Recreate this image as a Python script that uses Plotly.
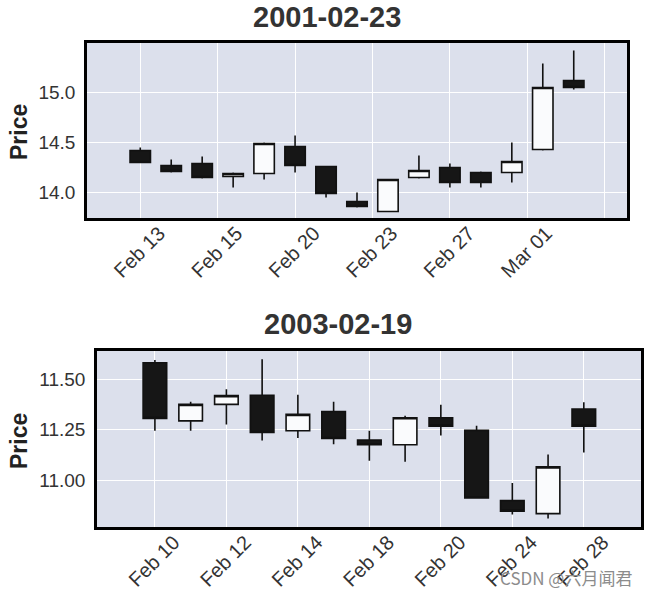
import plotly.graph_objects as go

# ---------------- data: panel 1 (2001-02-23) ----------------
title1 = "2001-02-23"
dates1 = ["2001-02-13", "2001-02-14", "2001-02-15", "2001-02-16", "2001-02-19",
          "2001-02-20", "2001-02-21", "2001-02-22", "2001-02-23", "2001-02-26",
          "2001-02-27", "2001-02-28", "2001-03-01", "2001-03-02", "2001-03-05"]
open1 = [14.42, 14.27, 14.29, 14.16, 14.19, 14.46, 14.26, 13.91, 13.81, 14.15, 14.25, 14.20, 14.20, 14.43, 15.12]
high1 = [14.45, 14.33, 14.36, 14.20, 14.50, 14.57, 14.26, 14.00, 14.13, 14.37, 14.29, 14.21, 14.50, 15.29, 15.42]
low1 = [14.30, 14.20, 14.14, 14.05, 14.13, 14.20, 13.95, 13.85, 13.81, 14.14, 14.05, 14.05, 14.10, 14.42, 15.03]
close1 = [14.30, 14.21, 14.15, 14.19, 14.49, 14.27, 13.99, 13.86, 14.13, 14.22, 14.10, 14.10, 14.31, 15.05, 15.05]
tickpos1 = [0, 2.5, 5, 7.5, 10, 12.5, 15]
ticklab1 = ["Feb 13", "Feb 15", "Feb 20", "Feb 23", "Feb 27", "Mar 01", ""]
yticks1 = [14.0, 14.5, 15.0]

# ---------------- data: panel 2 (2003-02-19) ----------------
title2 = "2003-02-19"
dates2 = ["2003-02-10", "2003-02-11", "2003-02-12", "2003-02-13", "2003-02-14",
          "2003-02-17", "2003-02-18", "2003-02-19", "2003-02-20", "2003-02-21",
          "2003-02-24", "2003-02-26", "2003-02-28"]
open2 = [11.58, 11.294, 11.375, 11.42, 11.245, 11.34, 11.199, 11.176, 11.309, 11.247, 10.901, 10.837, 11.352]
high2 = [11.594, 11.388, 11.449, 11.597, 11.423, 11.388, 11.245, 11.319, 11.373, 11.27, 10.988, 11.128, 11.385]
low2 = [11.245, 11.245, 11.276, 11.197, 11.21, 11.179, 11.097, 11.092, 11.222, 10.91, 10.832, 10.813, 11.138]
close2 = [11.306, 11.375, 11.418, 11.237, 11.326, 11.207, 11.176, 11.309, 11.268, 10.914, 10.849, 11.067, 11.268]
tickpos2 = [0, 2, 4, 6, 8, 10, 12]
ticklab2 = ["Feb 10", "Feb 12", "Feb 14", "Feb 18", "Feb 20", "Feb 24", "Feb 28"]
yticks2 = [11.0, 11.25, 11.5]

W, H = 652, 595
BG = "#dce0ec"
TXT = "#333333"
FONT = "Liberation Sans, Arial, sans-serif"


def px_x(p):
    return p / W


def px_y(p):
    return 1 - p / H


fig = go.Figure()

for i, (o, h, l, c, d) in enumerate([(open1, high1, low1, close1, dates1),
                                     (open2, high2, low2, close2, dates2)]):
    xs = list(range(len(o)))
    fig.add_trace(go.Candlestick(
        x=xs, open=o, high=h, low=l, close=c, text=d,
        xaxis="x" if i == 0 else "x2", yaxis="y" if i == 0 else "y2",
        increasing=dict(fillcolor="#fafbfd", line=dict(color="#111111", width=1.6)),
        decreasing=dict(fillcolor="#161616", line=dict(color="#111111", width=1.6)),
        whiskerwidth=0, showlegend=False,
    ))

axis_common = dict(
    showline=True, mirror=True, linecolor="black", linewidth=2.6,
    showgrid=True, gridcolor="white", gridwidth=1.3, zeroline=False,
    ticks="", automargin=False,
)
yfont = dict(family=FONT, size=19, color=TXT)
xfont = dict(family=FONT, size=20, color=TXT)

fig.update_layout(
    width=W, height=H,
    margin=dict(l=0, r=0, t=0, b=0),
    paper_bgcolor="white", plot_bgcolor=BG,
    boxgap=0.34, boxgroupgap=0,
    xaxis=dict(domain=[px_x(87), px_x(627)], range=[-1.72, 15.72], anchor="y",
               tickmode="array", tickvals=tickpos1, ticktext=ticklab1,
               tickangle=-45, ticklabelshift=19, ticklabelstandoff=-7, tickfont=xfont,
               rangeslider=dict(visible=False), **axis_common),
    yaxis=dict(domain=[px_y(218), px_y(43)], range=[13.745, 15.495], anchor="x",
               tickmode="array", tickvals=yticks1, tickformat=".1f",
               ticklabelstandoff=5, tickfont=yfont, **axis_common),
    xaxis2=dict(domain=[px_x(97), px_x(641)], range=[-1.62, 13.6], anchor="y2",
                tickmode="array", tickvals=tickpos2, ticktext=ticklab2,
                tickangle=-45, ticklabelshift=19, ticklabelstandoff=-7, tickfont=xfont,
                rangeslider=dict(visible=False), **axis_common),
    yaxis2=dict(domain=[px_y(527), px_y(351)], range=[10.771, 11.638], anchor="x2",
                tickmode="array", tickvals=yticks2, tickformat=".2f",
                ticklabelstandoff=5, tickfont=yfont, **axis_common),
)

annotations = [
    dict(text=title1, x=px_x(327), y=px_y(17), showarrow=False,
         font=dict(family=FONT, size=29, color=TXT, weight="bold")),
    dict(text=title2, x=px_x(338), y=px_y(324), showarrow=False,
         font=dict(family=FONT, size=29, color=TXT, weight="bold")),
    dict(text="Price", x=px_x(19), y=px_y(132), showarrow=False, textangle=-90,
         font=dict(family=FONT, size=23, color="#222222", weight="bold")),
    dict(text="Price", x=px_x(19), y=px_y(441), showarrow=False, textangle=-90,
         font=dict(family=FONT, size=23, color="#222222", weight="bold")),
    dict(text="CSDN @六月闻君", x=px_x(566), y=px_y(577), showarrow=False,
         font=dict(family="Noto Sans CJK SC, sans-serif", size=17, color="#8c8c8c")),
]
for a in annotations:
    a.update(xref="paper", yref="paper", xanchor="center", yanchor="middle")
fig.update_layout(annotations=annotations)

fig.write_html("out.html")
